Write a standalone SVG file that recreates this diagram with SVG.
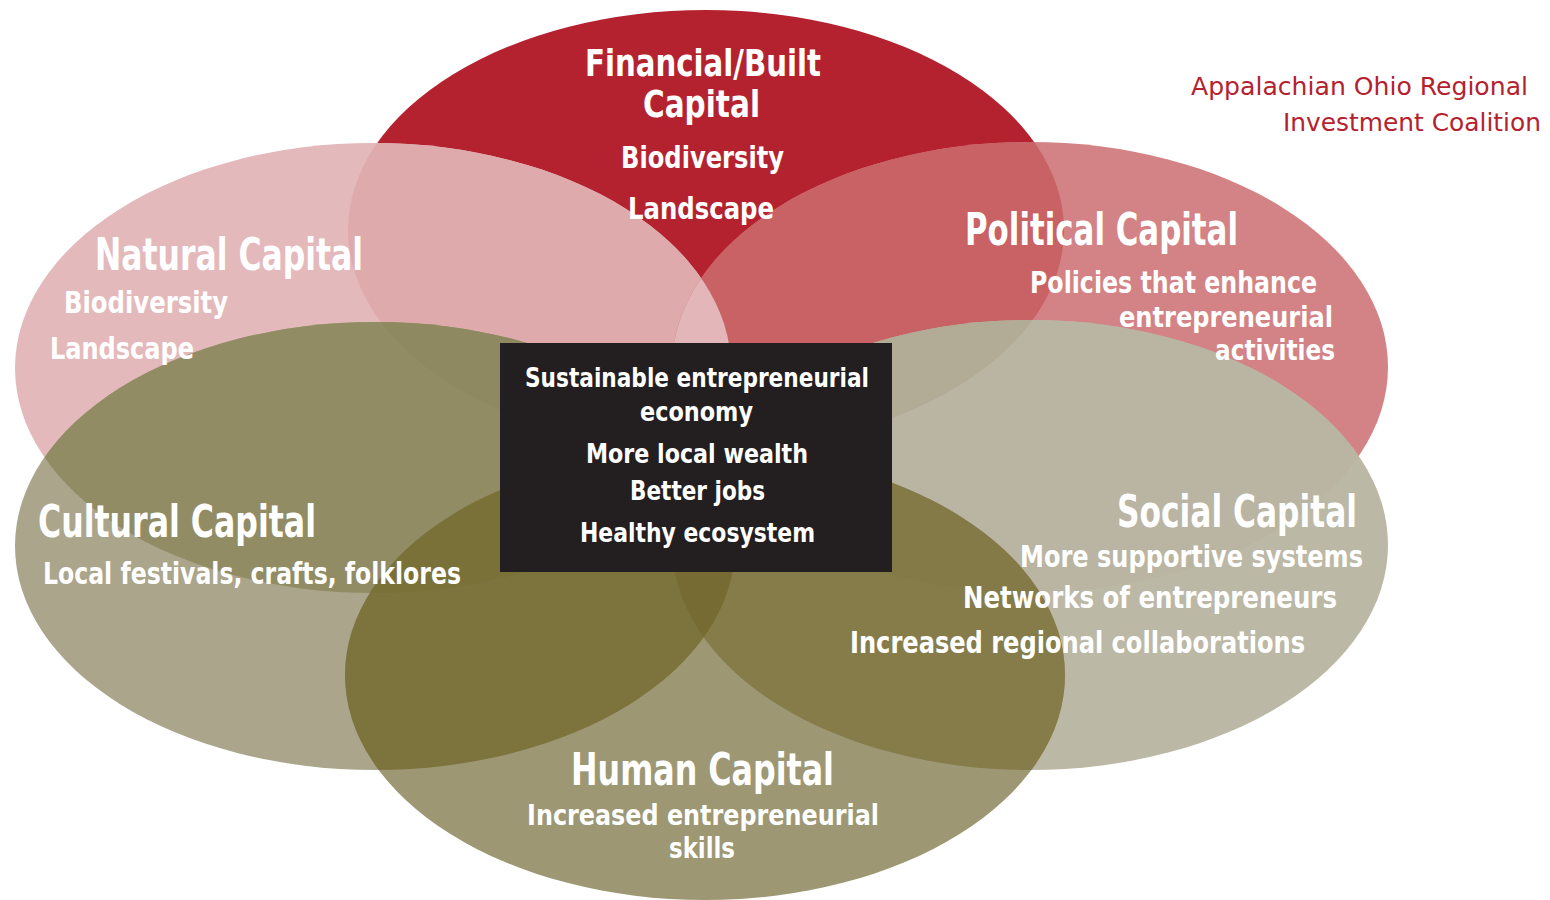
<svg xmlns="http://www.w3.org/2000/svg" xmlns:xlink="http://www.w3.org/1999/xlink" width="1550" height="900" viewBox="0 0 1550 900">
<style>
text{font-family:"DejaVu Sans Condensed","DejaVu Sans",sans-serif;font-weight:bold;fill:#ffffff}
.h{font-size:44px}
.hf{font-size:38px}
.s{font-size:31px}
.t{font-size:28px}
.b{font-size:26px}
.r{font-size:25px;fill:#b5222f;font-weight:normal}
</style>
<defs>
<ellipse id="eF" cx="706" cy="230" rx="358" ry="220"/>
<ellipse id="eN" cx="373" cy="368" rx="358" ry="225"/>
<ellipse id="eP" cx="1030" cy="367" rx="358" ry="225"/>
<ellipse id="eC" cx="375" cy="546" rx="360" ry="224"/>
<ellipse id="eS" cx="1030" cy="545" rx="358" ry="225"/>
<ellipse id="eH" cx="705" cy="675" rx="360" ry="225"/>
<clipPath id="cF"><use xlink:href="#eF"/></clipPath>
<clipPath id="cN"><use xlink:href="#eN"/></clipPath>
<clipPath id="cP"><use xlink:href="#eP"/></clipPath>
<clipPath id="cC"><use xlink:href="#eC"/></clipPath>
<clipPath id="cS"><use xlink:href="#eS"/></clipPath>
<clipPath id="cH"><use xlink:href="#eH"/></clipPath>
</defs>
<rect width="1550" height="900" fill="#ffffff"/>
<g id="ellipses">
<use xlink:href="#eF" fill="#b5222f"/>
<use xlink:href="#eP" fill="#d38385"/>
<use xlink:href="#eN" fill="#e4b9bb"/>
<use xlink:href="#eC" fill="#aba58b"/>
<use xlink:href="#eS" fill="#bcb8a6"/>
<use xlink:href="#eH" fill="#9d9774"/>
<g clip-path="url(#cF)"><use xlink:href="#eN" fill="#dfaaab"/></g>
<g clip-path="url(#cF)"><use xlink:href="#eP" fill="#c96264"/></g>
<g clip-path="url(#cF)"><g clip-path="url(#cN)"><use xlink:href="#eP" fill="#e3b7b9"/></g></g>
<g clip-path="url(#cN)"><use xlink:href="#eC" fill="#928c65"/></g>
<g clip-path="url(#cF)"><g clip-path="url(#cN)"><use xlink:href="#eC" fill="#8f8961"/></g></g>
<g clip-path="url(#cP)"><use xlink:href="#eS" fill="#b9b5a2"/></g>
<g clip-path="url(#cF)"><g clip-path="url(#cP)"><use xlink:href="#eS" fill="#b2ac96"/></g></g>
<g clip-path="url(#cC)"><use xlink:href="#eH" fill="#7c733d"/></g>
<g clip-path="url(#cS)"><use xlink:href="#eH" fill="#857c4a"/></g>
<g clip-path="url(#cC)"><g clip-path="url(#cS)"><use xlink:href="#eH" fill="#766c33"/></g></g>
<g clip-path="url(#cN)"><g clip-path="url(#cC)"><use xlink:href="#eH" fill="#7a7139"/></g></g>
<g clip-path="url(#cP)"><g clip-path="url(#cS)"><use xlink:href="#eH" fill="#837a48"/></g></g>
</g>
<g id="connectors"/>
<g id="financial">
<text class="hf" x="585" y="76" textLength="236" lengthAdjust="spacingAndGlyphs">Financial/Built</text>
<text class="hf" x="643" y="117" textLength="117" lengthAdjust="spacingAndGlyphs">Capital</text>
<text class="s" x="621" y="168" textLength="163" lengthAdjust="spacingAndGlyphs">Biodiversity</text>
<text class="s" x="628" y="219" textLength="146" lengthAdjust="spacingAndGlyphs">Landscape</text>
</g>
<g id="natural">
<text class="h" x="95" y="270" textLength="268" lengthAdjust="spacingAndGlyphs">Natural Capital</text>
<text class="s" x="64" y="313" textLength="164" lengthAdjust="spacingAndGlyphs">Biodiversity</text>
<text class="s" x="50" y="359" textLength="144" lengthAdjust="spacingAndGlyphs">Landscape</text>
</g>
<g id="political">
<text class="h" x="965" y="245" textLength="273" lengthAdjust="spacingAndGlyphs">Political Capital</text>
<text class="s" x="1030" y="293" textLength="287" lengthAdjust="spacingAndGlyphs">Policies that enhance</text>
<text class="t" x="1119" y="327" textLength="214" lengthAdjust="spacingAndGlyphs">entrepreneurial</text>
<text class="t" x="1215" y="360" textLength="120" lengthAdjust="spacingAndGlyphs">activities</text>
</g>
<g id="cultural">
<text class="h" x="38" y="537" textLength="278" lengthAdjust="spacingAndGlyphs">Cultural Capital</text>
<text class="s" x="43" y="584" textLength="418" lengthAdjust="spacingAndGlyphs">Local festivals, crafts, folklores</text>
</g>
<g id="social">
<text class="h" x="1117" y="527" textLength="240" lengthAdjust="spacingAndGlyphs">Social Capital</text>
<text class="s" x="1020" y="567" textLength="343" lengthAdjust="spacingAndGlyphs">More supportive systems</text>
<text class="s" x="963" y="608" textLength="374" lengthAdjust="spacingAndGlyphs">Networks of entrepreneurs</text>
<text class="s" x="850" y="653" textLength="455" lengthAdjust="spacingAndGlyphs">Increased regional collaborations</text>
</g>
<g id="human">
<text class="h" x="571" y="785" textLength="263" lengthAdjust="spacingAndGlyphs">Human Capital</text>
<text class="t" x="527" y="825" textLength="352" lengthAdjust="spacingAndGlyphs">Increased entrepreneurial</text>
<text class="t" x="669" y="858" textLength="66" lengthAdjust="spacingAndGlyphs">skills</text>
</g>
<g id="center">
<rect x="500" y="343" width="392" height="229" fill="#231f20"/>
<text class="b" x="525" y="387" textLength="344" lengthAdjust="spacingAndGlyphs">Sustainable entrepreneurial</text>
<text class="b" x="640" y="421" textLength="113" lengthAdjust="spacingAndGlyphs">economy</text>
<text class="b" x="586" y="463" textLength="222" lengthAdjust="spacingAndGlyphs">More local wealth</text>
<text class="b" x="630" y="500" textLength="135" lengthAdjust="spacingAndGlyphs">Better jobs</text>
<text class="b" x="580" y="542" textLength="235" lengthAdjust="spacingAndGlyphs">Healthy ecosystem</text>
</g>
<g id="title">
<text class="r" x="1191" y="95" textLength="337" lengthAdjust="spacingAndGlyphs">Appalachian Ohio Regional</text>
<text class="r" x="1283" y="131" textLength="258" lengthAdjust="spacingAndGlyphs">Investment Coalition</text>
</g>
</svg>
